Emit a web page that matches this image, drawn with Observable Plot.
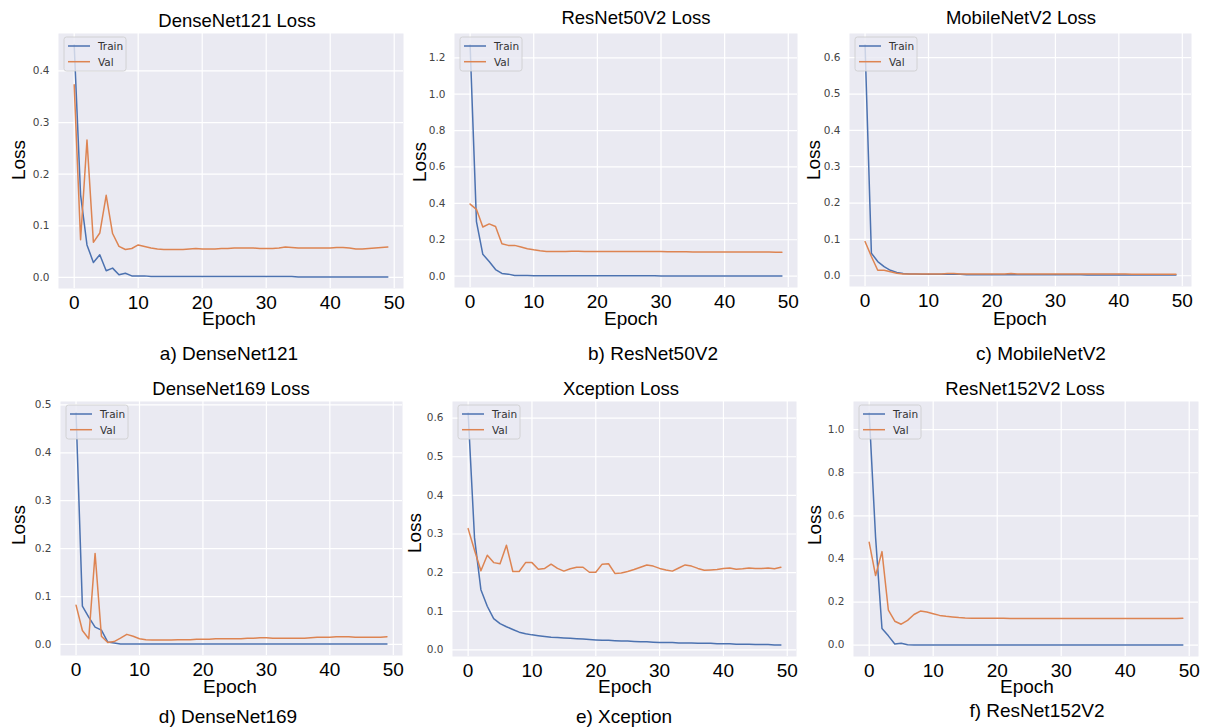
<!DOCTYPE html>
<html><head><meta charset="utf-8">
<script src="https://cdn.jsdelivr.net/npm/d3@7"></script>
<script src="https://cdn.jsdelivr.net/npm/@observablehq/plot@0.6"></script>
<style>
body{margin:0;background:#fff;}
#root{position:relative;width:1205px;height:728px;overflow:hidden;}
#root svg{position:absolute;}
</style></head><body><div id="root"></div>
<script>
// ---------- DATA ----------
const epochs = d3.range(50);
const xTicks = [0, 10, 20, 30, 40, 50];

const d121Train = [0.450,0.160,0.063,0.029,0.044,0.013,0.018,0.005,0.008,0.003,
 0.003,0.003,0.002,0.002,0.002,0.002,0.002,0.002,0.002,0.002,
 0.002,0.002,0.002,0.002,0.002,0.002,0.002,0.002,0.002,0.002,
 0.002,0.002,0.002,0.002,0.002,0.001,0.001,0.001,0.001,0.001,
 0.001,0.001,0.001,0.001,0.001,0.001,0.001,0.001,0.001,0.001];
const d121Val = [0.373,0.073,0.266,0.068,0.086,0.159,0.085,0.060,0.054,0.056,
 0.063,0.060,0.057,0.055,0.054,0.054,0.054,0.054,0.055,0.056,
 0.055,0.055,0.055,0.056,0.056,0.057,0.057,0.057,0.057,0.056,
 0.056,0.056,0.057,0.059,0.058,0.057,0.057,0.057,0.057,0.057,
 0.057,0.058,0.058,0.057,0.055,0.055,0.056,0.057,0.058,0.059];

const r50Train = [1.270,0.300,0.120,0.080,0.036,0.015,0.011,0.004,0.003,0.003,
 0.002,0.002,0.002,0.002,0.002,0.002,0.002,0.002,0.002,0.002,
 0.002,0.002,0.002,0.002,0.002,0.002,0.002,0.002,0.002,0.002,
 0.001,0.001,0.001,0.001,0.001,0.001,0.001,0.001,0.001,0.001,
 0.001,0.001,0.001,0.001,0.001,0.001,0.001,0.001,0.001,0.001];
const r50Val = [0.396,0.367,0.270,0.287,0.273,0.178,0.169,0.169,0.160,0.151,
 0.145,0.140,0.136,0.136,0.136,0.136,0.137,0.137,0.136,0.136,
 0.136,0.136,0.135,0.135,0.135,0.135,0.135,0.135,0.135,0.135,
 0.135,0.134,0.134,0.134,0.134,0.133,0.133,0.132,0.132,0.132,
 0.132,0.133,0.133,0.133,0.132,0.132,0.132,0.132,0.131,0.131];

const mobTrain = [0.635,0.062,0.039,0.025,0.015,0.009,0.006,0.005,0.005,0.004,
 0.004,0.004,0.004,0.004,0.004,0.004,0.003,0.003,0.003,0.003,
 0.003,0.003,0.003,0.003,0.003,0.003,0.003,0.003,0.003,0.003,
 0.003,0.003,0.003,0.003,0.003,0.002,0.002,0.002,0.002,0.002,
 0.002,0.002,0.002,0.002,0.002,0.002,0.002,0.002,0.002,0.002];
const mobVal = [0.094,0.053,0.015,0.015,0.011,0.007,0.005,0.005,0.005,0.005,
 0.005,0.005,0.005,0.006,0.006,0.005,0.005,0.005,0.005,0.005,
 0.005,0.005,0.005,0.006,0.005,0.005,0.005,0.005,0.005,0.005,
 0.005,0.005,0.005,0.005,0.005,0.005,0.005,0.005,0.005,0.005,
 0.005,0.005,0.004,0.004,0.004,0.004,0.004,0.004,0.004,0.004];

const d169Train = [0.483,0.080,0.057,0.036,0.030,0.005,0.003,0.001,0.001,0.001,
 0.001,0.001,0.001,0.001,0.001,0.001,0.001,0.001,0.001,0.001,
 0.001,0.001,0.001,0.001,0.001,0.001,0.001,0.001,0.001,0.001,
 0.001,0.001,0.001,0.001,0.001,0.001,0.001,0.001,0.001,0.001,
 0.001,0.001,0.001,0.001,0.001,0.001,0.001,0.001,0.001,0.001];
const d169Val = [0.082,0.029,0.012,0.190,0.017,0.004,0.006,0.013,0.021,0.017,
 0.012,0.010,0.009,0.009,0.009,0.009,0.010,0.010,0.010,0.011,
 0.011,0.011,0.012,0.012,0.012,0.012,0.012,0.013,0.013,0.014,
 0.014,0.013,0.013,0.013,0.013,0.013,0.013,0.014,0.015,0.015,
 0.015,0.016,0.016,0.016,0.015,0.015,0.015,0.015,0.015,0.016];

const xcTrain = [0.613,0.290,0.156,0.113,0.081,0.068,0.060,0.053,0.046,0.042,
 0.039,0.037,0.035,0.033,0.032,0.031,0.030,0.029,0.028,0.027,
 0.026,0.025,0.025,0.024,0.023,0.023,0.022,0.021,0.021,0.020,
 0.019,0.019,0.019,0.018,0.018,0.018,0.017,0.017,0.017,0.016,
 0.016,0.016,0.015,0.015,0.015,0.014,0.014,0.014,0.013,0.013];
const xcVal = [0.314,0.258,0.205,0.245,0.226,0.223,0.271,0.203,0.203,0.226,
 0.226,0.209,0.211,0.222,0.211,0.204,0.210,0.214,0.214,0.201,
 0.201,0.222,0.223,0.198,0.199,0.203,0.208,0.214,0.220,0.217,
 0.211,0.207,0.204,0.212,0.220,0.217,0.211,0.206,0.207,0.208,
 0.211,0.212,0.209,0.210,0.212,0.211,0.211,0.212,0.210,0.214];

const r152Train = [1.077,0.500,0.077,0.043,0.005,0.009,0.002,0.001,0.001,0.001,
 0.001,0.001,0.001,0.001,0.001,0.001,0.001,0.001,0.001,0.001,
 0.001,0.001,0.001,0.001,0.001,0.001,0.001,0.001,0.001,0.001,
 0.001,0.001,0.001,0.001,0.001,0.001,0.001,0.001,0.001,0.001,
 0.001,0.001,0.001,0.001,0.001,0.001,0.001,0.001,0.001,0.001];
const r152Val = [0.477,0.323,0.434,0.162,0.111,0.097,0.115,0.142,0.158,0.154,
 0.146,0.138,0.134,0.131,0.128,0.126,0.125,0.125,0.125,0.125,
 0.125,0.125,0.124,0.124,0.124,0.124,0.124,0.124,0.124,0.124,
 0.124,0.124,0.124,0.124,0.124,0.124,0.124,0.124,0.124,0.124,
 0.124,0.124,0.124,0.124,0.124,0.124,0.124,0.124,0.124,0.125];

const titles = ["DenseNet121 Loss","ResNet50V2 Loss","MobileNetV2 Loss","DenseNet169 Loss","Xception Loss","ResNet152V2 Loss"];
const captions = ["a) DenseNet121","b) ResNet50V2","c) MobileNetV2","d) DenseNet169","e) Xception","f) ResNet152V2"];
const yTicksA = [0, 0.1, 0.2, 0.3, 0.4];
const yTicksB = [0, 0.2, 0.4, 0.6, 0.8, 1.0, 1.2];
const yTicksC = [0, 0.1, 0.2, 0.3, 0.4, 0.5, 0.6];
const yTicksD = [0, 0.1, 0.2, 0.3, 0.4, 0.5];
const yTicksE = [0, 0.1, 0.2, 0.3, 0.4, 0.5, 0.6];
const yTicksF = [0, 0.2, 0.4, 0.6, 0.8, 1.0];
const seriesNames = ["Train", "Val"];

// ---------- LAYOUT ----------
const panels = [
  {train:d121Train, val:d121Val, yt:yTicksA, l:58,  r:403,  t:33,  b:288, tx:237,  ty:27,  ex:229,  ey:325, lx:25,  ly:160, cx:229,  cy:360},
  {train:r50Train,  val:r50Val,  yt:yTicksB, l:454, r:797,  t:33,  b:287, tx:636,  ty:24,  ex:631,  ey:325, lx:426, ly:162, cx:653,  cy:360},
  {train:mobTrain,  val:mobVal,  yt:yTicksC, l:849, r:1191, t:33,  b:286, tx:1021, ty:24,  ex:1020, ey:325, lx:820, ly:160, cx:1041, cy:360},
  {train:d169Train, val:d169Val, yt:yTicksD, l:60,  r:402,  t:401, b:655, tx:231,  ty:395, ex:230,  ey:693, lx:25,  ly:525, cx:228,  cy:723},
  {train:xcTrain,   val:xcVal,   yt:yTicksE, l:452, r:796,  t:401, b:656, tx:621,  ty:395, ex:625,  ey:693, lx:421, ly:533, cx:624,  cy:723},
  {train:r152Train, val:r152Val, yt:yTicksF, l:853, r:1198, t:401, b:656, tx:1025, ty:395, ex:1027, ey:693, lx:821, ly:525, cx:1037, cy:717}
];
const BLUE = "#4C72B0", ORANGE = "#DD8452", BG = "#EAEAF2";
const root = document.getElementById("root");
const ML = 50, MR = 10, MT = 6, MB = 40;

panels.forEach((p, k) => {
  const all = p.train.concat(p.val);
  const lo = d3.min(all), hi = d3.max(all), pad = (hi - lo) * 0.05;
  const chart = Plot.plot({
    width: p.r - p.l + ML + MR, height: p.b - p.t + MT + MB,
    marginLeft: ML, marginRight: MR, marginTop: MT, marginBottom: MB,
    style: {background: "transparent", overflow: "visible"},
    x: {domain: [-2.45, 51.45]},
    y: {domain: [lo - pad, hi + pad]},
    marks: [
      Plot.frame({fill: BG, stroke: "none"}),
      Plot.gridX(xTicks, {stroke: "#fff", strokeOpacity: 1, strokeWidth: 1.2}),
      Plot.gridY(p.yt, {stroke: "#fff", strokeOpacity: 1, strokeWidth: 1.2}),
      Plot.axisX(xTicks, {tickSize: 0, tickPadding: 7, fontSize: 19, fontFamily: "Liberation Sans, Arial, sans-serif", color: "#000", label: null}),
      Plot.axisY(p.yt, {tickSize: 0, tickPadding: 9, fontSize: 10.5, fontFamily: "DejaVu Sans, sans-serif", color: "#444", tickFormat: d3.format(".1f"), label: null}),
      Plot.line(epochs, {x: d => d, y: (d, i) => p.train[i], stroke: BLUE, strokeWidth: 1.5}),
      Plot.line(epochs, {x: d => d, y: (d, i) => p.val[i], stroke: ORANGE, strokeWidth: 1.5})
    ]
  });
  chart.style.left = (p.l - ML) + "px";
  chart.style.top = (p.t - MT) + "px";
  root.appendChild(chart);
});

// ---------- TEXT OVERLAY ----------
const svg = d3.select(root).append("svg")
  .attr("width", 1205).attr("height", 728)
  .style("left", "0px").style("top", "0px")
  .attr("font-family", "Liberation Sans, Arial, sans-serif");

panels.forEach((p, k) => {
  svg.append("text").attr("x", p.tx).attr("y", p.ty).attr("text-anchor", "middle")
    .attr("font-size", 18.5).attr("fill", "#000").text(titles[k]);
  svg.append("text").attr("x", p.ex).attr("y", p.ey).attr("text-anchor", "middle")
    .attr("font-size", 19).attr("fill", "#000").text("Epoch");
  svg.append("text").attr("transform", `translate(${p.lx},${p.ly}) rotate(-90)`)
    .attr("text-anchor", "middle").attr("font-size", 19).attr("fill", "#000").text("Loss");
  svg.append("text").attr("x", p.cx).attr("y", p.cy).attr("text-anchor", "middle")
    .attr("font-size", 19).attr("fill", "#000").text(captions[k]);
  // legend
  const g = svg.append("g").attr("transform", `translate(${p.l + 6},${p.t + 4})`);
  g.append("rect").attr("width", 62).attr("height", 34).attr("rx", 2.5)
    .attr("fill", BG).attr("fill-opacity", 0.8).attr("stroke", "#cccccc").attr("stroke-width", 0.8);
  [BLUE, ORANGE].forEach((c, j) => {
    const y = 9 + j * 15.7;
    g.append("line").attr("x1", 4).attr("x2", 26).attr("y1", y).attr("y2", y)
      .attr("stroke", c).attr("stroke-width", 1.5);
    g.append("text").attr("x", 34).attr("y", y + 3.8).attr("font-size", 10.5)
      .attr("font-family", "DejaVu Sans, sans-serif").attr("fill", "#333").text(seriesNames[j]);
  });
});
</script></body></html>
